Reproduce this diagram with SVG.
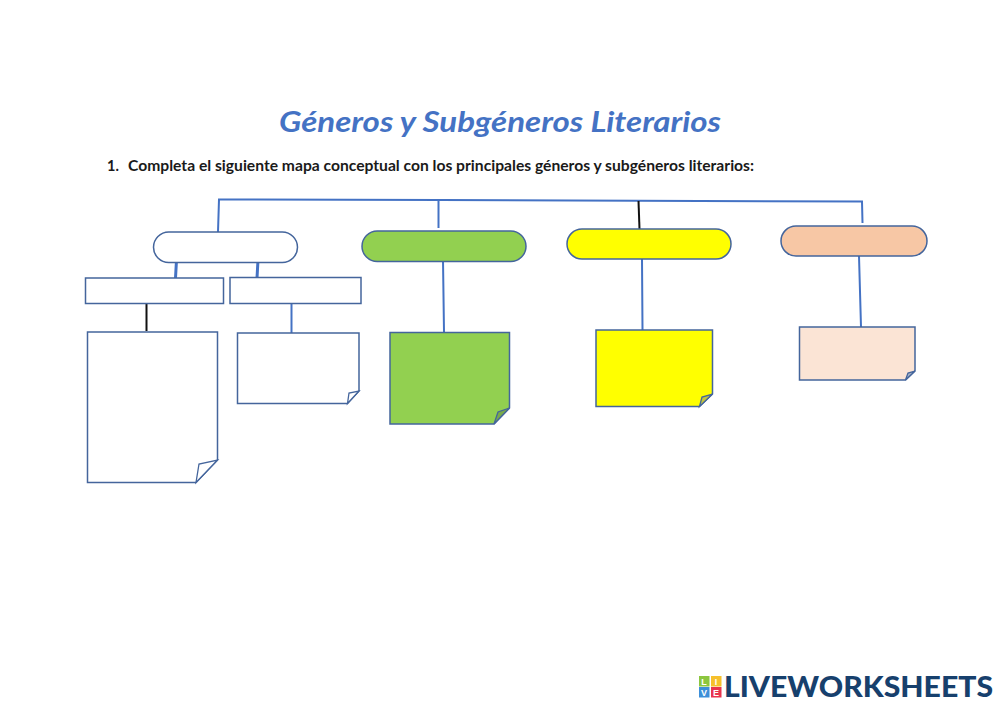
<svg xmlns="http://www.w3.org/2000/svg" width="1000" height="707" viewBox="0 0 1000 707">
<style>
.n{stroke:#44659c;stroke-width:1.5}
.c{fill:none;stroke:#4472c4;stroke-width:2}
.k{fill:none;stroke:#111;stroke-width:2}
.t{fill:none;stroke:#4472c4;stroke-width:3}
.f{stroke:#44659c;stroke-width:1.3}
text{font-family:Lato,"Liberation Sans",Arial,sans-serif;font-weight:700}
.h{font-size:14.500px;fill:#1a1a1a}
.l{font-size:9px;fill:#fff;text-anchor:middle;font-family:"Liberation Sans",Arial,sans-serif}
</style>
<rect width="1000" height="707" fill="#fff"/>
<g id="title"><text x="500" y="132" text-anchor="middle" font-size="29" font-style="italic" fill="#4472c4" textLength="442" lengthAdjust="spacingAndGlyphs">Géneros y Subgéneros Literarios</text></g>
<g id="instruction"><text class="h" x="107" y="171">1.</text><text class="h" x="128" y="171" textLength="626" lengthAdjust="spacingAndGlyphs">Completa el siguiente mapa conceptual con los principales géneros y subgéneros literarios:</text></g>
<g id="connectors">
<path class="c" d="M218 232L219 199.500L440 200L862 201.500L862.500 223"/>
<path class="c" d="M438.500 200V228"/>
<path class="k" d="M638.500 201L639.500 229"/>
<path class="t" d="M176.500 260L175.500 278M258 260L257 278"/>
<path class="k" d="M146.500 302V331"/>
<path class="c" d="M291.500 303V333"/>
<path class="c" d="M443 260L444 332M642 259L642.500 330M859 256L861 327"/>
</g>
<g id="node-genre-1"><rect class="n" x="153.500" y="232" width="144" height="30.500" rx="15.250" fill="#fff"/></g>
<g id="node-genre-2"><rect class="n" x="362" y="231" width="164" height="30.500" rx="15.250" fill="#92d050"/></g>
<g id="node-genre-3"><rect class="n" x="567" y="229" width="164" height="30" rx="15" fill="#ff0"/></g>
<g id="node-genre-4"><rect class="n" x="781" y="226" width="146" height="30" rx="15" fill="#f7c7a5"/></g>
<g id="node-sub-1"><rect class="n" x="85.500" y="278" width="138" height="25.500" fill="#fff"/></g>
<g id="node-sub-2"><rect class="n" x="230" y="277.500" width="131" height="26" fill="#fff"/></g>
<g id="node-note-1"><path class="n" d="M87.500 332H217.500V460L196 482.500H87.500Z" fill="#fff"/><path class="f" d="M196 482.500L199 464L217.500 460Z" fill="#fff"/></g>
<g id="node-note-2"><path class="n" d="M237.500 333H359V391L347.500 403.500H237.500Z" fill="#fff"/><path class="f" d="M347.500 403.500L349 393L359 391Z" fill="#fff"/></g>
<g id="node-note-3"><path class="n" d="M390 332.500H509.500V408L494 424H390Z" fill="#92d050"/><path class="f" d="M494 424L498 412L509.500 408Z" fill="#79ab4a"/></g>
<g id="node-note-4"><path class="n" d="M596 330H712.500V394L699.500 406.500H596Z" fill="#ff0"/><path class="f" d="M699.500 406.500L702 397L712.500 394Z" fill="#c4c63c"/></g>
<g id="node-note-5"><path class="n" d="M799.500 327H915V371L905.500 380H799.500Z" fill="#fbe4d5"/><path class="f" d="M905.500 380L908 373L915 371Z" fill="#a9b3c6"/></g>
<g id="logo">
<rect x="699" y="676" width="10.500" height="10.500" fill="#8cc63f"/><rect x="711" y="676" width="10.500" height="10.500" fill="#f6c02c"/>
<rect x="699" y="687" width="10.500" height="10.500" fill="#3d8fd9"/><rect x="711" y="687" width="10.500" height="10.500" fill="#e8344e"/>
<text class="l" x="704" y="684.500">L</text><text class="l" x="716" y="684.500">I</text><text class="l" x="704" y="695.500">V</text><text class="l" x="716" y="695.500">E</text>
<text x="724" y="697" font-size="29" style="font-weight:900" fill="#17406d" textLength="269" lengthAdjust="spacingAndGlyphs">LIVEWORKSHEETS</text>
</g>
</svg>
